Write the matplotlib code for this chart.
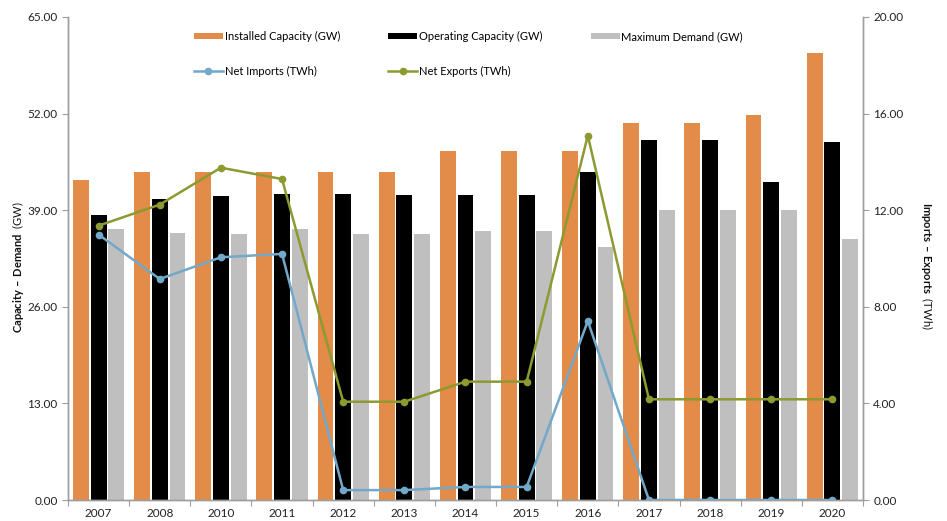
import matplotlib
matplotlib.use("Agg")
import matplotlib.pyplot as plt
import numpy as np
from matplotlib.ticker import FixedLocator, FormatStrFormatter

plt.rcParams["font.family"] = ["Lato", "DejaVu Sans"]
plt.rcParams["mathtext.fontset"] = "custom"
plt.rcParams["mathtext.rm"] = "Lato"
plt.rcParams["mathtext.bf"] = "Lato:bold"

years = ["2007", "2008", "2010", "2011", "2012", "2013", "2014", "2015",
         "2016", "2017", "2018", "2019", "2020"]
installed_gw = [43.0, 44.1, 44.1, 44.1, 44.1, 44.1, 46.9, 46.9, 46.9,
                50.8, 50.8, 51.8, 60.2]
operating_gw = [38.4, 40.5, 40.9, 41.2, 41.2, 41.1, 41.1, 41.1, 44.1,
                48.5, 48.5, 42.8, 48.2]
max_demand_gw = [36.5, 35.9, 35.8, 36.5, 35.8, 35.8, 36.2, 36.2, 34.1,
                 39.0, 39.0, 39.0, 35.1]
net_imports_twh = [10.99, 9.15, 10.05, 10.19, 0.41, 0.41, 0.54, 0.54, 7.41,
                   0.0, 0.0, 0.0, 0.0]
net_exports_twh = [11.36, 12.23, 13.76, 13.29, 4.07, 4.07, 4.90, 4.90, 15.09,
                   4.17, 4.17, 4.17, 4.17]

c_installed = "#E38B48"
c_operating = "#000000"
c_demand = "#BFBFBF"
c_imports = "#72A8CA"
c_exports = "#8C9A30"
c_axis = "#9E9E9E"

fig = plt.figure(figsize=(9.47, 5.21), dpi=100)
ax = fig.add_axes([0.0718, 0.0403, 0.8395, 0.9271])
ax2 = ax.twinx()

x = np.arange(len(years))
w = 0.26
off = 0.29
b1 = ax.bar(x - off, installed_gw, w, color=c_installed, label="Installed Capacity (GW)")
b2 = ax.bar(x, operating_gw, w, color=c_operating, label="Operating Capacity (GW)")
b3 = ax.bar(x + off, max_demand_gw, w, color=c_demand, label="Maximum Demand (GW)")

l1, = ax2.plot(x, net_imports_twh, color=c_imports, lw=1.8, marker="o",
               ms=4.5, label="Net Imports (TWh)")
l2, = ax2.plot(x, net_exports_twh, color=c_exports, lw=1.8, marker="o",
               ms=4.5, label="Net Exports (TWh)")

ax.set_xlim(-0.5, len(years) - 0.5)
ax.set_ylim(0, 65)
ax2.set_ylim(0, 20)
ax.set_yticks(np.arange(0, 65.1, 13))
ax2.set_yticks(np.arange(0, 20.1, 4))
ax.yaxis.set_major_formatter(FormatStrFormatter("%.2f"))
ax2.yaxis.set_major_formatter(FormatStrFormatter("%.2f"))

# category boundaries get tick marks, names sit at the centres
ax.xaxis.set_major_locator(FixedLocator(np.arange(-0.5, len(years), 1.0)))
ax.xaxis.set_minor_locator(FixedLocator(x))
ax.set_xticklabels([], minor=False)
ax.set_xticklabels(years, minor=True)
ax.tick_params(axis="x", which="major", length=4, color=c_axis, direction="out")
ax.tick_params(axis="x", which="minor", length=0, pad=6, labelsize=8.5, labelcolor="#222222")
ax.tick_params(axis="y", length=4, color=c_axis, labelsize=8.5, labelcolor="#222222")
ax2.tick_params(axis="y", length=4, color=c_axis, labelsize=8.5, labelcolor="#222222")

for a in (ax, ax2):
    a.spines["top"].set_visible(False)
    for s in ("left", "right", "bottom"):
        a.spines[s].set_color(c_axis)
        a.spines[s].set_linewidth(1.0)

fig.text(0.019, 0.487, r"$\mathbf{Capacity\ –\ Demand}$  (GW)", rotation=90,
         ha="center", va="center", fontsize=8, color="#111111")
fig.text(0.979, 0.490, r"$\mathbf{Imports\ –\ Exports}$  (TWh)", rotation=-90,
         ha="center", va="center", fontsize=8, color="#111111")

handles = [b1, l1, b2, l2, b3]
labels = [h.get_label() for h in handles]
fig.legend(handles, labels, ncol=3, loc="upper left",
           bbox_to_anchor=(0.199, 0.951), frameon=False, fontsize=8,
           handlelength=2.6, handleheight=0.45, handletextpad=0.15,
           columnspacing=4.35, labelspacing=2.1, borderpad=0)

fig.savefig("out.png", dpi=100)
